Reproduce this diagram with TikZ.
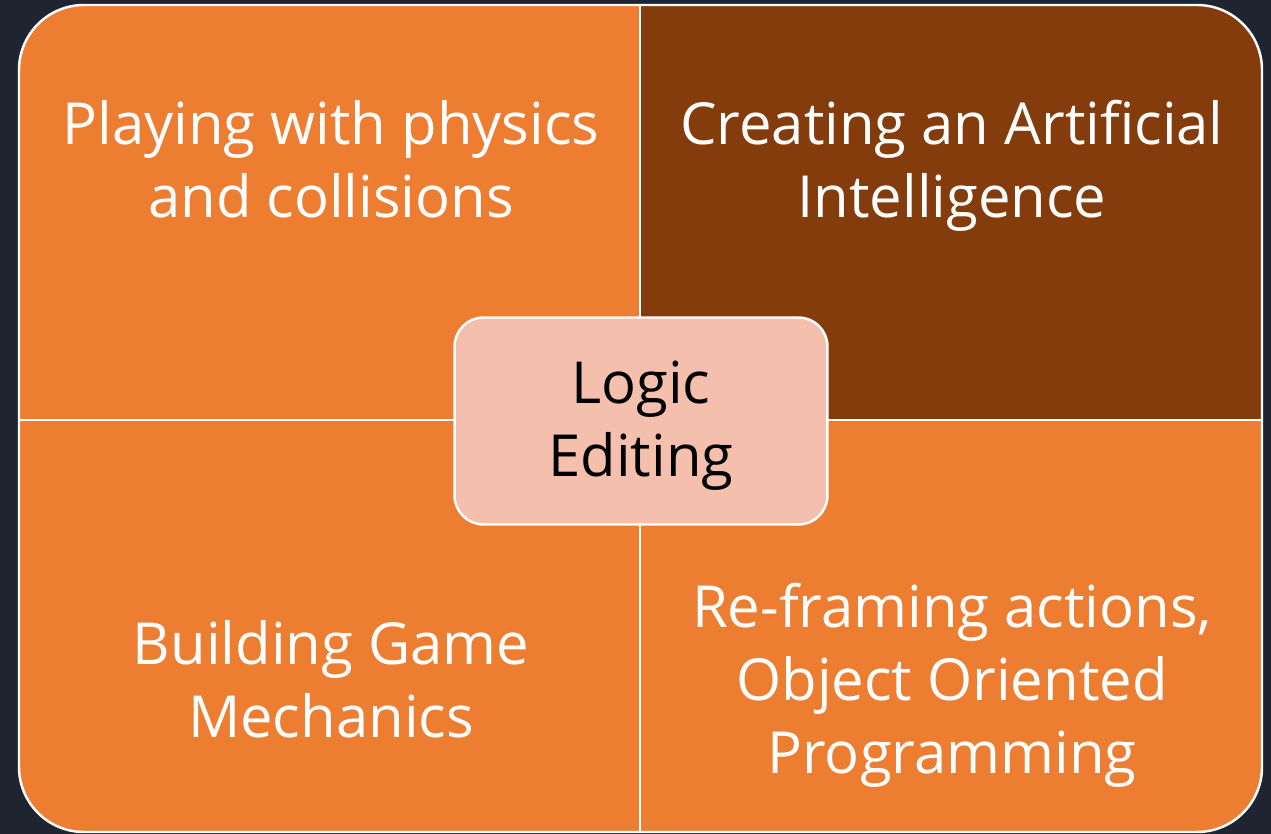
\documentclass[tikz,border=0pt]{standalone}
\usepackage{fontspec}
\setmainfont{Open Sans}

\definecolor{bgnavy}{HTML}{1E2430}
\definecolor{quadorange}{HTML}{ED7D31}
\definecolor{quadbrown}{HTML}{843C0C}
\definecolor{hubpink}{HTML}{F4BFAD}

\tikzset{
  quadtext/.style={align=center, text=white},
  hubbox/.style={draw=white, line width=1.4pt, fill=hubpink, rounded corners=0.58cm,
                 minimum width=7.46cm, minimum height=4.14cm},
  hubtext/.style={align=center, text=black}
}

\begin{document}
\begin{tikzpicture}[x=0.02cm, y=-0.02cm, font=\fontsize{33}{41.5}\selectfont]

    % --- 1. Frame of the grid ---
    \def\Lx{19}    % left edge
    \def\Rx{1262}  % right edge
    \def\Ty{5}     % top edge
    \def\By{832}   % bottom edge
    \def\Mx{640}   % vertical split
    \def\My{420}   % horizontal split

    % dark page behind everything
    \fill[bgnavy] (0,0) rectangle (1271,834);

    % --- 2. Quadrants ---
    \fill[quadorange, rounded corners=1.3cm] (\Lx,\Ty) rectangle (\Rx,\By);
    \begin{scope}
        \clip[rounded corners=1.3cm] (\Lx,\Ty) rectangle (\Rx,\By);
        \fill[quadbrown] (\Mx,\Ty) rectangle (\Rx,\My);
    \end{scope}

    % white split lines and outline
    \draw[white, line width=1.4pt] (\Mx,\Ty) -- (\Mx,\By);
    \draw[white, line width=1.4pt] (\Lx,\My) -- (\Rx,\My);
    \draw[white, line width=1.4pt, rounded corners=1.3cm] (\Lx,\Ty) rectangle (\Rx,\By);

    % --- 3. Labels ---
    \node[quadtext] (physics) at (331,159) {Playing with physics\\and collisions};
    \node[quadtext] (ai) at (952,166) {Creating an Artificial\\Intelligence};
    \node[quadtext] (mechanics) at (331,679) {Building Game\\Mechanics};
    \node[quadtext] (oop) at (952,685) {Re-framing actions,\\Object Oriented\\Programming};

    % centre hub
    \node[hubbox] (logic) at (641,421) {};
    \node[hubtext] (logiclabel) at ([yshift=-5*0.02cm]logic.center) {Logic\\Editing};

\end{tikzpicture}
\end{document}
